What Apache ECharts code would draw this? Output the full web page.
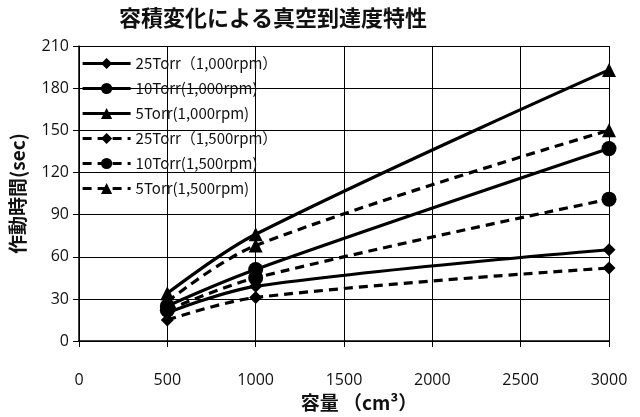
<!DOCTYPE html>
<html><head><meta charset="utf-8">
<script src="https://cdn.jsdelivr.net/npm/echarts@6/dist/echarts.min.js"></script>
<style>html,body{margin:0;padding:0;background:#fff;}#c{width:640px;height:417px;}</style>
</head><body><div id="c"></div>
<script>
const capacities = [500, 1000, 3000];
const names = ['25Torr（1,000rpm）','10Torr(1,000rpm)','5Torr(1,000rpm)','25Torr（1,500rpm）','10Torr(1,500rpm)','5Torr(1,500rpm)'];
const t25_1000 = [20, 39, 65];
const t10_1000 = [25, 51, 137];
const t5_1000  = [34, 76, 193];
const t25_1500 = [15, 31, 52];
const t10_1500 = [22, 45, 101];
const t5_1500  = [28, 68, 150];
const xTicks = [0, 500, 1000, 1500, 2000, 2500, 3000];
const yTicks = [0, 30, 60, 90, 120, 150, 180, 210];

const values = [t25_1000, t10_1000, t5_1000, t25_1500, t10_1500, t5_1500];
const symbols = ['diamond','circle','triangle','diamond','circle','triangle'];
const sizes = [13, 15, 14, 13, 15, 14];
const font = '"Noto Sans CJK JP", sans-serif';
const numFont = '"Open Sans", "Noto Sans", sans-serif';

const series = values.map((v, i) => ({
  name: names[i],
  type: 'line',
  smooth: 0.35,
  data: capacities.map((x, j) => [x, v[j]]),
  symbol: symbols[i],
  symbolSize: sizes[i],
  itemStyle: {color: '#000'},
  lineStyle: {color: '#000', width: 3.2, type: i < 3 ? 'solid' : [9, 6]}
}));

const chart = echarts.init(document.getElementById('c'));
chart.setOption({
  animation: false,
  backgroundColor: '#fff',
  title: {text: '容積変化による真空到達度特性', left: 268, top: 2, textAlign: 'center',
    textStyle: {fontFamily: font, fontSize: 22, fontWeight: 'bold', color: '#111'}},
  grid: {left: 79, right: 31, top: 46, bottom: 75},
  legend: {orient: 'vertical', left: 76, top: 51, itemWidth: 48, itemHeight: 14, itemGap: 10,
    lineStyle: {width: 3.2},
    textStyle: {fontFamily: font, fontSize: 15, color: '#111'},
    data: names},
  xAxis: {type: 'value', min: xTicks[0], max: xTicks[xTicks.length-1], interval: 500,
    name: '容量 （cm³）', nameLocation: 'middle', nameGap: 49,
    nameTextStyle: {fontFamily: font, fontSize: 19, fontWeight: 'bold', color: '#111', padding: [0,0,0,30]},
    axisLine: {lineStyle: {color: '#000', width: 1.5}},
    axisTick: {show: true, length: 6, lineStyle: {color: '#000'}},
    axisLabel: {fontFamily: numFont, fontSize: 16, color: '#111', margin: 31, formatter: v => String(v)},
    splitLine: {show: true, lineStyle: {color: '#000', width: 1}}},
  yAxis: {type: 'value', min: yTicks[0], max: yTicks[yTicks.length-1], interval: 30,
    name: '作動時間(sec)', nameLocation: 'middle', nameGap: 52,
    nameTextStyle: {fontFamily: font, fontSize: 19, fontWeight: 'bold', color: '#111'},
    axisLine: {show: true, lineStyle: {color: '#000', width: 1.5}},
    axisTick: {show: true, length: 6, lineStyle: {color: '#000'}},
    axisLabel: {fontFamily: numFont, fontSize: 16, color: '#111', margin: 10, formatter: v => String(v)},
    splitLine: {show: true, lineStyle: {color: '#000', width: 1}}},
  series: series
});
</script></body></html>
